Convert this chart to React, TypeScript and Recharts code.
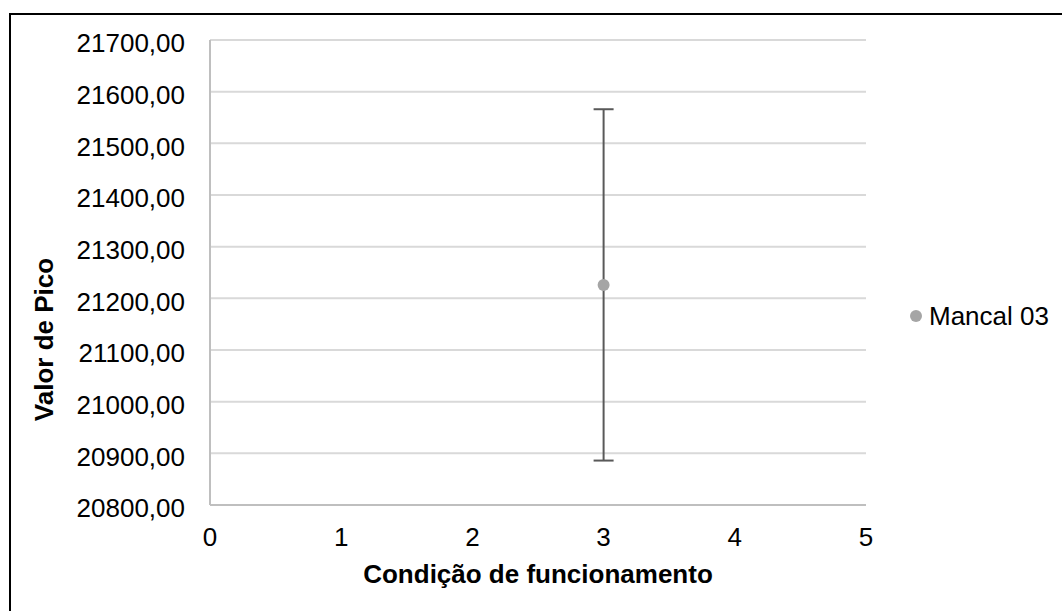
import React from "react";
import {
  ScatterChart,
  Scatter,
  XAxis,
  YAxis,
  CartesianGrid,
  ErrorBar,
  Legend,
} from "recharts";

// one measurement, Mancal 03
const conditions = [3];
const peakValues = [21226];
const peakErrors = [340];

const yTicks = [20800, 20900, 21000, 21100, 21200, 21300, 21400, 21500, 21600, 21700];
const xTicks = [0, 1, 2, 3, 4, 5];

const data = conditions.map((c, i) => ({
  x: c,
  y: peakValues[i],
  err: peakErrors[i],
}));

const fmt = (v: number) => v.toFixed(2).replace(".", ",");

const FONT = "'Liberation Sans', Arial, sans-serif";

// y title sits a bit below the plot centre, like in Excel
const YTitle = (props: any) => {
  const vb = props.viewBox;
  const cx = vb.x + 34;
  const cy = vb.y + vb.height / 2 + 67;
  return (
    <text
      x={cx}
      y={cy}
      transform={`rotate(-90, ${cx}, ${cy})`}
      textAnchor="middle"
      dominantBaseline="central"
      fill="#000"
      fontSize={26}
      fontWeight="bold"
      fontFamily={FONT}
    >
      Valor de Pico
    </text>
  );
};

const renderLegend = (props: any) => (
  <div>
    {(props.payload || []).map((entry: any) => (
      <div
        key={entry.value}
        style={{ display: "flex", alignItems: "center", height: 30 }}
      >
        <span
          style={{
            width: 12,
            height: 12,
            borderRadius: 6,
            background: entry.color,
            marginRight: 7,
            display: "inline-block",
          }}
        />
        <span style={{ color: "#000", fontSize: 26, lineHeight: "30px" }}>
          {entry.value}
        </span>
      </div>
    ))}
  </div>
);

export default function App() {
  return (
    <div
      style={{
        position: "absolute",
        left: 0,
        top: 0,
        width: 1062,
        height: 611,
        overflow: "hidden",
        background: "#fff",
        fontFamily: FONT,
      }}
    >
      {/* outer frame, only top and left edges are inside the picture */}
      <div
        style={{
          position: "absolute",
          left: 9,
          top: 13,
          width: 1200,
          height: 700,
          border: "2px solid #000",
          boxSizing: "border-box",
        }}
      />
      <div style={{ position: "absolute", left: 0, top: 0 }}>
        <ScatterChart
          width={1062}
          height={611}
          margin={{ top: 40, right: 196, bottom: 26, left: 10 }}
          style={{ fontFamily: FONT }}
        >
          <CartesianGrid vertical={false} stroke="#d9d9d9" strokeWidth={2} />
          <XAxis
            type="number"
            dataKey="x"
            domain={[0, 5]}
            ticks={xTicks}
            height={80}
            stroke="#bfbfbf"
            strokeWidth={2}
            tickLine={false}
            tickMargin={17}
            tick={{ fill: "#000", fontSize: 26 }}
            label={{
              value: "Condição de funcionamento",
              position: "insideBottom",
              offset: 2,
              style: { fill: "#000", fontSize: 26, fontWeight: "bold" },
            }}
          />
          <YAxis
            type="number"
            dataKey="y"
            domain={[20800, 21700]}
            ticks={yTicks}
            width={200}
            stroke="#bfbfbf"
            strokeWidth={2}
            tickLine={false}
            tickMargin={19}
            tickFormatter={fmt}
            tick={{ fill: "#000", fontSize: 26, dy: 3 }}
            label={YTitle}
          />
          <Legend
            layout="horizontal"
            verticalAlign="middle"
            align="center"
            content={renderLegend}
            wrapperStyle={{ left: 910, top: 301, width: 150 }}
          />
          <Scatter
            name="Mancal 03"
            data={data}
            fill="#a5a5a5"
            isAnimationActive={false}
            shape={(p: any) => <circle cx={p.cx} cy={p.cy} r={6} fill="#a5a5a5" />}
          >
            <ErrorBar dataKey="err" direction="y" width={10} stroke="#595959" strokeWidth={2} />
          </Scatter>
        </ScatterChart>
      </div>
    </div>
  );
}
